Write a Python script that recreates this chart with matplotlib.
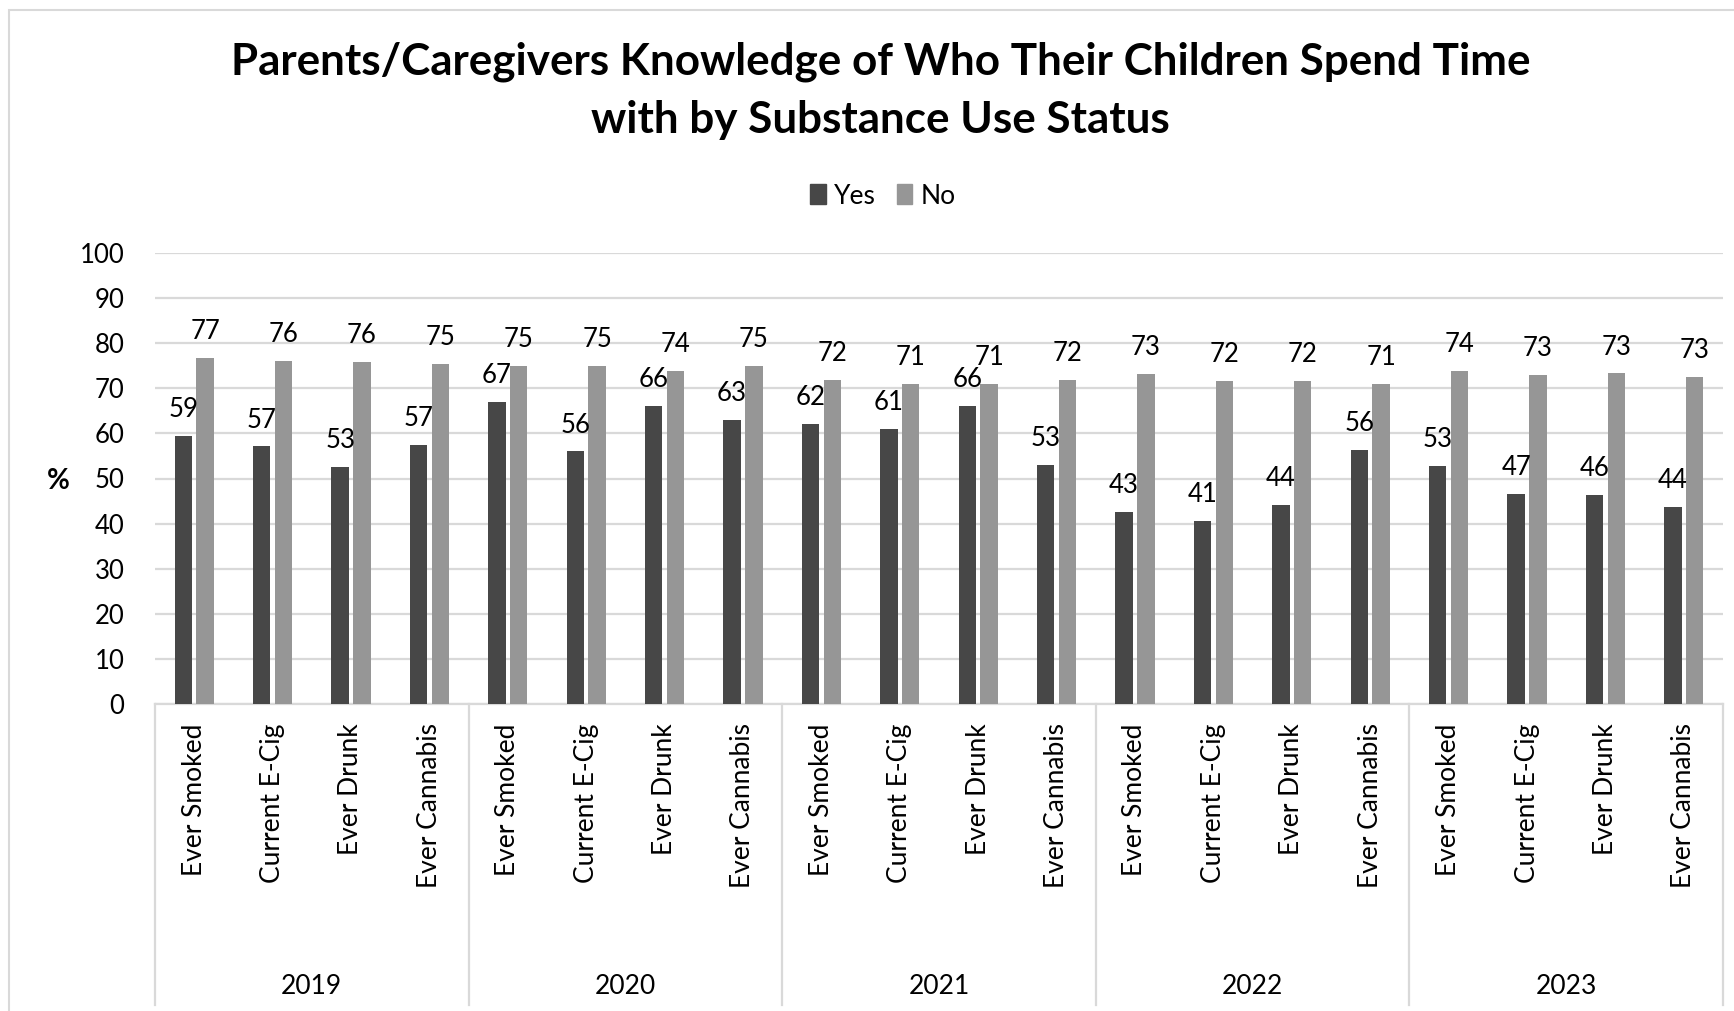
import numpy as np
import matplotlib
matplotlib.use("Agg")
import matplotlib.pyplot as plt
import matplotlib.transforms as mtransforms
from matplotlib.patches import Rectangle, Patch

plt.rcParams['font.family'] = ['Lato', 'DejaVu Sans']

# data
years = ['2019', '2020', '2021', '2022', '2023']
measures = ['Ever Smoked', 'Current E-Cig', 'Ever Drunk', 'Ever Cannabis']
yes_vals = [59.4, 57.1, 52.6, 57.4,
            67.0, 56.0, 66.0, 63.0,
            62.0, 61.0, 66.0, 53.0,
            42.6, 40.6, 44.1, 56.3,
            52.7, 46.6, 46.3, 43.7]
no_vals = [76.8, 76.1, 75.9, 75.4,
           75.0, 74.9, 73.9, 74.9,
           71.9, 71.0, 71.0, 71.9,
           73.2, 71.7, 71.6, 71.0,
           73.9, 72.9, 73.3, 72.6]

yes_color = '#474747'
no_color = '#969696'
grid_color = '#d9d9d9'
fs = 18.5

fig = plt.figure(figsize=(17.34, 10.11), dpi=100)
ax = fig.add_axes([155 / 1734, 307 / 1011, 1568 / 1734, 451 / 1011])

n = len(years) * len(measures)
x = np.arange(n)
w = 0.22
off = 0.139
ax.bar(x - off, yes_vals, w, color=yes_color, zorder=3)
ax.bar(x + off, no_vals, w, color=no_color, zorder=3)

for xi, v in zip(x - off, yes_vals):
    ax.annotate(f'{v:.0f}', (xi, v), xytext=(0, 19), textcoords='offset points',
                ha='center', va='center', fontsize=fs)
for xi, v in zip(x + off, no_vals):
    ax.annotate(f'{v:.0f}', (xi, v), xytext=(0, 19), textcoords='offset points',
                ha='center', va='center', fontsize=fs)

ax.set_xlim(-0.5, n - 0.5)
ax.set_ylim(0, 100)
ax.set_yticks(range(0, 101, 10))
ax.tick_params(axis='y', length=0, labelsize=fs, pad=22)
ax.set_xticks(x)
ax.set_xticklabels(measures * len(years), rotation=90, fontsize=19)
ax.tick_params(axis='x', length=0, pad=14)
ax.yaxis.grid(True, color=grid_color, lw=1.6, zorder=0)
ax.set_axisbelow(True)
for s in ['top', 'right', 'left']:
    ax.spines[s].set_visible(False)
ax.spines['bottom'].set_color(grid_color)
ax.spines['bottom'].set_linewidth(1.6)

# group separators and year labels below the axis
trans = mtransforms.blended_transform_factory(ax.transData, fig.transFigure)
y_axis = 307 / 1011
for b in np.arange(len(years) + 1) * len(measures) - 0.5:
    ax.plot([b, b], [y_axis, 0.006], transform=trans, color=grid_color,
            lw=1.6, clip_on=False)
for i, yr in enumerate(years):
    ax.text(i * len(measures) + (len(measures) - 1) / 2, 0.0247, yr,
            transform=trans, ha='center', va='center', fontsize=19)

fig.text(58 / 1734, 0.524, '%', fontsize=20, fontweight='bold',
         ha='center', va='center')

fig.text(0.508, 1 - 62 / 1011, 'Parents/Caregivers Knowledge of Who Their Children Spend Time',
         ha='center', va='center', fontsize=31.7, fontweight='bold')
fig.text(0.508, 1 - 120 / 1011, 'with by Substance Use Status',
         ha='center', va='center', fontsize=31.7, fontweight='bold')

handles = [Patch(color=yes_color), Patch(color=no_color)]
fig.legend(handles, ['Yes', 'No'], loc='center', bbox_to_anchor=(0.509, 1 - 196 / 1011),
           ncol=2, frameon=False, fontsize=19, handlelength=0.6, handleheight=0.8,
           handletextpad=0.3, columnspacing=0.8)

fig.patches.append(Rectangle((9 / 1734, -0.05), 1.5, 1 - 10 / 1011 + 0.05,
                             transform=fig.transFigure, fill=False,
                             edgecolor=grid_color, lw=1.5))

fig.savefig('out.png', dpi=100)
